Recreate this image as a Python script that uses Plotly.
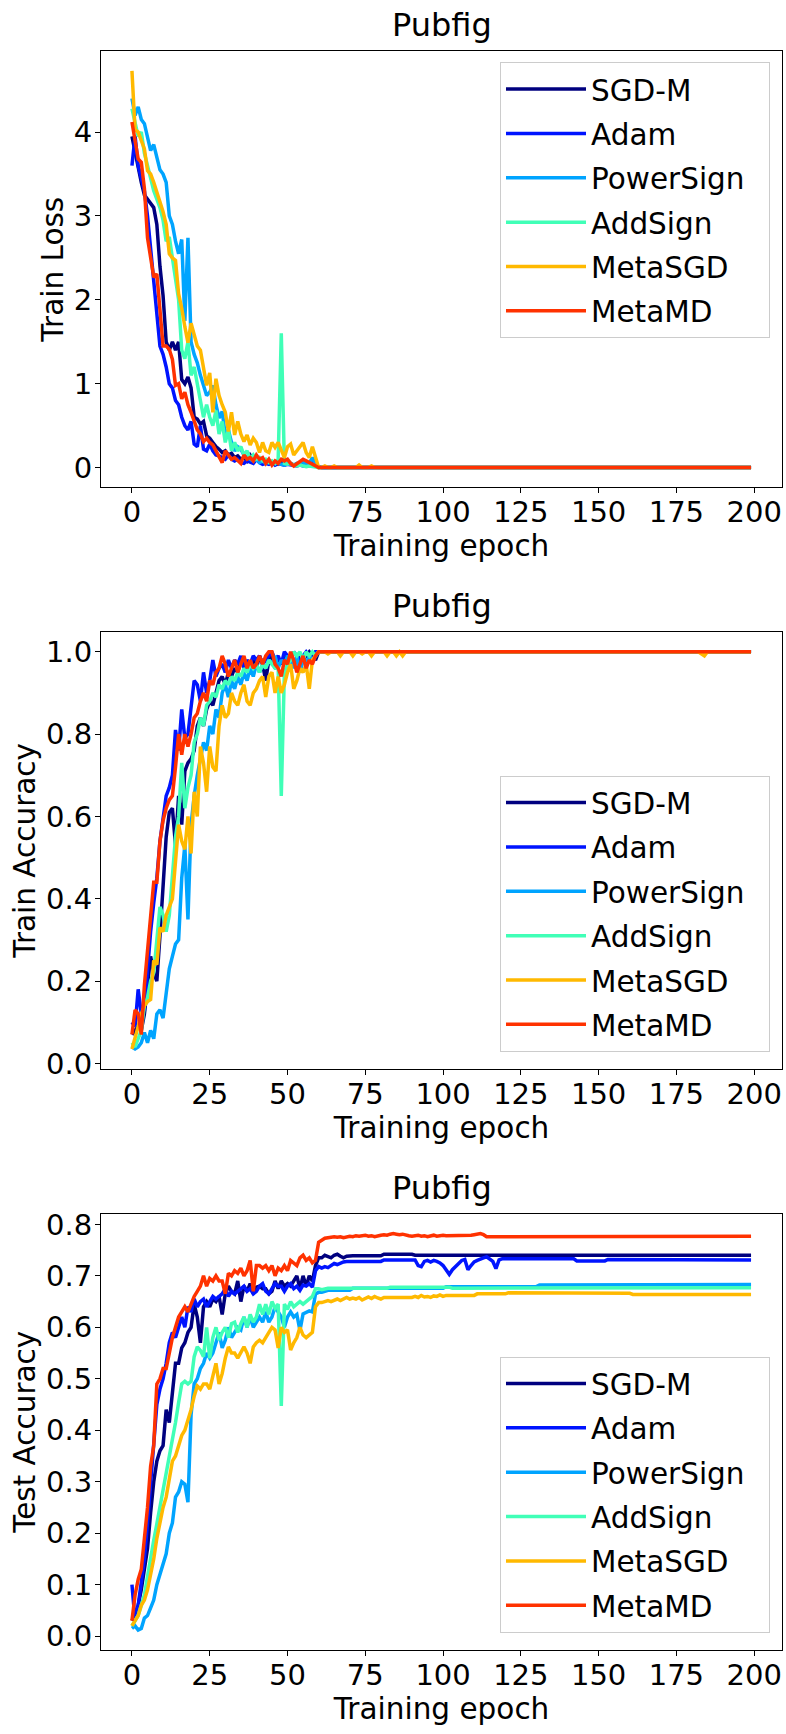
import plotly.graph_objects as go

# ---------------- data ----------------
names = ["SGD-M", "Adam", "PowerSign", "AddSign", "MetaSGD", "MetaMD"]
colors = ["#00007f", "#0014ff", "#00a4ff", "#40ffb7", "#ffb900", "#ff3200"]
x_ticks = [0, 25, 50, 75, 100, 125, 150, 175, 200]
dataset = "Pubfig"
x_label = "Training epoch"

# ---- Train loss (epochs 0-60, then plateau) ----
loss_sgdm = [3.95, 3.75, 3.6, 3.4, 3.25, 3.2, 3.15, 3.1, 2.9, 2.4,
             2.05, 1.5, 1.4, 1.5, 1.4, 1.5, 1.05, 1.0, 1.08, 0.95,
             0.6, 0.58, 0.52, 0.55, 0.38, 0.35, 0.3, 0.25, 0.22, 0.18,
             0.2, 0.15, 0.17, 0.12, 0.14, 0.1, 0.12, 0.08, 0.15, 0.1,
             0.12, 0.08, 0.1, 0.06, 0.08, 0.05, 0.07, 0.04, 0.06, 0.05,
             0.04, 0.05, 0.03, 0.04, 0.03, 0.05, 0.03, 0.04, 0.03, 0.02,
             0.0] + [0.0] * 139
loss_adam = [3.6, 3.95, 3.6, 3.45, 3.3, 3.0, 2.6, 2.2, 1.8, 1.45,
             1.35, 1.2, 1.0, 0.95, 0.8, 0.75, 0.6, 0.5, 0.45, 0.55,
             0.28, 0.25, 0.5, 0.22, 0.2, 0.28, 0.2, 0.15, 0.14, 0.12,
             0.1, 0.15, 0.1, 0.08, 0.1, 0.06, 0.05, 0.08, 0.06, 0.05,
             0.1, 0.06, 0.04, 0.05, 0.04, 0.06, 0.03, 0.05, 0.04, 0.03,
             0.04, 0.03, 0.03, 0.02, 0.03, 0.02, 0.04, 0.03, 0.08, 0.02,
             0.0] + [0.0] * 139
loss_powersign = [4.4, 4.2, 4.3, 4.15, 4.1, 3.95, 3.78, 3.85, 3.7, 3.55,
                  3.5, 3.4, 3.0, 2.9, 2.7, 2.55, 2.72, 1.75, 2.74, 1.5,
                  1.35, 1.25, 1.1, 0.98, 0.86, 0.9, 0.98, 0.75, 0.59, 0.67,
                  0.39, 0.45, 0.3, 0.2, 0.25, 0.22, 0.15, 0.12, 0.1, 0.08,
                  0.1, 0.06, 0.08, 0.05, 0.07, 0.04, 0.06, 0.05, 0.04, 0.03,
                  0.05, 0.04, 0.03, 0.05, 0.04, 0.08, 0.03, 0.05, 0.12, 0.04,
                  0.0] + [0.0] * 139
loss_addsign = [4.28, 4.1, 3.95, 4.0, 3.75, 3.6, 3.45, 3.3, 3.2, 3.1,
                2.95, 2.7, 2.75, 2.5, 2.2, 2.0, 1.4, 1.3, 1.5, 1.1,
                1.2, 1.0, 0.8, 0.6, 0.75, 0.6, 0.5, 0.68, 0.4, 0.55,
                0.3, 0.45, 0.2, 0.3, 0.2, 0.25, 0.15, 0.2, 0.1, 0.15,
                0.1, 0.12, 0.08, 0.1, 0.06, 0.08, 0.05, 0.1, 1.6, 0.05,
                0.04, 0.05, 0.03, 0.02, 0.03, 0.02, 0.01, 0.02, 0.01, 0.01,
                0.0] + [0.0] * 139
loss_metasgd = [4.73, 4.03, 4.0, 3.9, 3.8, 3.54, 3.5, 3.4, 3.29, 3.17,
                3.05, 2.9, 2.55, 2.5, 2.47, 2.07, 1.9, 1.68, 1.49, 1.72,
                1.6, 1.45, 1.4, 1.2, 0.98, 1.13, 0.66, 1.06, 0.86, 0.75,
                0.66, 0.43, 0.66, 0.39, 0.55, 0.4, 0.31, 0.39, 0.27, 0.35,
                0.3, 0.18, 0.3, 0.2, 0.18, 0.3, 0.24, 0.3, 0.2, 0.12,
                0.25, 0.28, 0.15, 0.2, 0.26, 0.3, 0.18, 0.12, 0.25, 0.12,
                0.0] + [0.0, 0.02, 0.0, 0.0, 0.02, 0.0, 0.0, 0.0, 0.0, 0.0,
                        0.0, 0.0, 0.03, 0.0, 0.0, 0.0, 0.02, 0.0, 0.0, 0.0] + [0.0] * 119
loss_metamd = [4.12, 3.88, 3.68, 3.64, 3.33, 2.74, 2.47, 2.27, 2.31, 1.9,
               1.45, 1.45, 1.41, 1.29, 0.98, 1.0, 0.82, 0.9, 0.75, 0.66,
               0.55, 0.45, 0.4, 0.31, 0.35, 0.3, 0.27, 0.2, 0.15, 0.06,
               0.2, 0.15, 0.1, 0.12, 0.08, 0.05, 0.15, 0.1, 0.12, 0.08,
               0.15, 0.1, 0.12, 0.05, 0.1, 0.03, 0.08, 0.05, 0.1, 0.08,
               0.1, 0.05, 0.02, 0.05, 0.08, 0.1, 0.08, 0.06, 0.05, 0.03,
               0.0] + [0.0] * 139

# ---- Train accuracy ----
acc_sgdm = [0.07, 0.08, 0.09, 0.08, 0.12, 0.19, 0.26, 0.22, 0.2, 0.31,
            0.43, 0.55, 0.61, 0.62, 0.53, 0.65, 0.58, 0.71, 0.73, 0.74,
            0.76, 0.82, 0.84, 0.82, 0.86, 0.88, 0.87, 0.9, 0.93, 0.94,
            0.92, 0.95, 0.94, 0.96, 0.95, 0.98, 0.97, 0.95, 0.97, 0.98,
            0.96, 0.99, 0.97, 0.93, 0.98, 0.99, 0.96, 0.98, 0.97, 0.99,
            0.98, 0.99, 0.97, 0.98, 0.99, 0.98, 0.99, 1.0, 0.99, 0.98,
            1.0] + [1.0] * 139
acc_adam = [0.1, 0.09, 0.18, 0.12, 0.13, 0.23, 0.32, 0.39, 0.45, 0.54,
            0.6, 0.65, 0.67, 0.7, 0.81, 0.76, 0.86, 0.79, 0.8, 0.87,
            0.93, 0.92, 0.88, 0.95, 0.9, 0.93, 0.98, 0.94, 0.96, 0.97,
            0.95, 0.98, 0.96, 0.98, 0.97, 0.99, 0.96, 0.98, 0.97, 0.99,
            0.98, 0.99, 0.97, 0.98, 0.99, 1.0, 0.98, 0.99, 0.97, 1.0,
            0.99, 0.98, 1.0, 0.99, 0.98, 0.99, 1.0, 0.99, 0.98, 1.0,
            1.0] + [1.0] * 139
acc_powersign = [0.04, 0.035, 0.04, 0.05, 0.075, 0.05, 0.08, 0.06, 0.12, 0.13,
                 0.11, 0.17, 0.23, 0.26, 0.29, 0.3, 0.45, 0.53, 0.35, 0.58,
                 0.65, 0.7, 0.74, 0.78, 0.76, 0.82, 0.8, 0.86, 0.84, 0.9,
                 0.92, 0.89, 0.93, 0.91, 0.94, 0.92, 0.95, 0.93, 0.96, 0.94,
                 0.97, 0.95, 0.97, 0.96, 0.98, 0.97, 0.99, 0.96, 0.98, 0.97,
                 0.99, 0.98, 0.96, 0.99, 0.95, 0.98, 0.97, 0.99, 0.98, 0.99,
                 1.0] + [1.0] * 139
acc_addsign = [0.05, 0.04, 0.06, 0.08, 0.14, 0.16, 0.2, 0.22, 0.3, 0.38,
               0.36, 0.32, 0.36, 0.45, 0.55, 0.6, 0.73, 0.62, 0.67, 0.7,
               0.78, 0.8, 0.84, 0.82, 0.87, 0.88, 0.9, 0.89, 0.92, 0.91,
               0.93, 0.92, 0.94, 0.93, 0.95, 0.94, 0.96, 0.95, 0.97, 0.96,
               0.97, 0.95, 0.97, 0.96, 0.98, 0.97, 0.96, 0.96, 0.65, 0.95,
               0.97, 0.98, 1.0, 0.99, 1.0, 0.98, 1.0, 0.99, 1.0, 0.99,
               1.0] + [1.0] * 139
acc_metasgd = [0.035, 0.06, 0.09, 0.12, 0.14, 0.15, 0.155, 0.25, 0.24, 0.33,
               0.32, 0.36, 0.38, 0.4, 0.49, 0.58, 0.54, 0.52, 0.6, 0.51,
               0.66, 0.6, 0.77, 0.73, 0.66, 0.77, 0.72, 0.71, 0.82, 0.87,
               0.84, 0.85, 0.9, 0.88, 0.87, 0.9, 0.92, 0.88, 0.87, 0.9,
               0.91, 0.93, 0.94, 0.89, 0.94, 0.95, 0.9, 0.94, 0.9, 0.92,
               0.95, 0.97, 0.91, 0.93, 0.96, 0.95, 0.97, 0.91, 0.98, 0.99,
               1.0] + [1.0, 1.0, 0.995, 1.0, 1.0, 1.0, 0.99, 1.0, 1.0, 1.0,
                       0.99, 1.0, 1.0, 0.995, 1.0, 1.0, 0.99, 1.0, 1.0, 1.0,
                       1.0, 0.99, 1.0, 1.0, 0.99, 1.0, 0.99, 1.0, 1.0, 1.0] + [1.0] * 92 + [0.995, 0.99, 1.0] + [1.0] * 14
acc_metamd = [0.07, 0.13, 0.12, 0.07, 0.19, 0.27, 0.37, 0.44, 0.44, 0.54,
              0.59, 0.62, 0.64, 0.65, 0.72, 0.8, 0.75, 0.8, 0.77, 0.8,
              0.84, 0.85, 0.88, 0.9, 0.88, 0.93, 0.92, 0.95, 0.96, 0.99,
              0.97, 0.94, 0.96, 0.98, 0.95, 0.97, 0.99, 0.96, 0.98, 0.96,
              0.97, 0.99, 0.97, 0.99, 1.0, 1.0, 0.97, 0.96, 0.94, 0.98,
              0.97, 1.0, 0.98, 0.95, 0.97, 0.99, 0.96, 0.98, 0.97, 0.99,
              1.0] + [1.0] * 139

# ---- Test accuracy ----
test_sgdm = [0.03, 0.04, 0.06, 0.09, 0.13, 0.17, 0.24, 0.3, 0.34, 0.36,
             0.37, 0.44, 0.415, 0.48, 0.53, 0.53, 0.56, 0.57, 0.59, 0.6,
             0.645, 0.62, 0.57, 0.64, 0.65, 0.64, 0.655, 0.65, 0.66, 0.625,
             0.665, 0.68, 0.67, 0.665, 0.69, 0.65, 0.68, 0.67, 0.685, 0.665,
             0.678, 0.68, 0.675, 0.675, 0.665, 0.67, 0.69, 0.675, 0.69, 0.68,
             0.685, 0.68, 0.69, 0.70, 0.675, 0.70, 0.68, 0.70, 0.69, 0.72,
             0.735] + [0.735, 0.74, 0.738, 0.735, 0.74, 0.742, 0.738, 0.735, 0.738] + [0.739] * 11 \
    + [0.742] * 10 + [0.74] * 10 + [0.741] * 40 + [0.74] * 59
test_adam = [0.1, 0.03, 0.06, 0.1, 0.15, 0.22, 0.3, 0.38, 0.45, 0.48,
             0.5, 0.53, 0.57, 0.59, 0.58, 0.6, 0.62, 0.6, 0.64, 0.63,
             0.655, 0.64, 0.65, 0.655, 0.64, 0.65, 0.66, 0.655, 0.66, 0.665,
             0.675, 0.66, 0.67, 0.665, 0.67, 0.675, 0.68, 0.67, 0.675, 0.665,
             0.67, 0.68, 0.685, 0.67, 0.665, 0.675, 0.685, 0.68, 0.68, 0.67,
             0.68, 0.685, 0.675, 0.68, 0.672, 0.682, 0.68, 0.685, 0.678, 0.71,
             0.718] + [0.715, 0.718, 0.716, 0.72, 0.724, 0.722, 0.725, 0.727] + [0.728] * 12 + [0.731] * 11 \
    + [0.72, 0.718, 0.728, 0.73, 0.727, 0.73, 0.728, 0.725, 0.72, 0.71,
       0.703, 0.712, 0.718, 0.725, 0.73, 0.732, 0.712, 0.72, 0.727, 0.73,
       0.733, 0.735, 0.737, 0.733, 0.728, 0.714, 0.731] + [0.733] * 24 + [0.729] * 10 + [0.732] * 30 + [0.731] * 17
test_powersign = [0.015, 0.02, 0.012, 0.015, 0.035, 0.04, 0.055, 0.07, 0.1, 0.12,
                  0.14, 0.16, 0.2, 0.22, 0.27, 0.28, 0.3, 0.295, 0.26, 0.43,
                  0.49, 0.5, 0.52, 0.53, 0.55, 0.54, 0.55, 0.57, 0.59, 0.56,
                  0.575, 0.6, 0.58, 0.59, 0.6, 0.595, 0.62, 0.6, 0.62, 0.6,
                  0.61, 0.62, 0.61, 0.63, 0.61, 0.62, 0.64, 0.63, 0.62, 0.6,
                  0.62, 0.63, 0.62, 0.625, 0.594, 0.626, 0.63, 0.632, 0.63, 0.665,
                  0.668] + [0.668, 0.67] + [0.672] * 8 + [0.676] * 30 + [0.679] * 30 + [0.682] * 30 + [0.683] * 39
test_addsign = [0.02, 0.03, 0.04, 0.06, 0.08, 0.116, 0.154, 0.186, 0.218, 0.25,
                0.28, 0.31, 0.345, 0.377, 0.415, 0.454, 0.49, 0.495, 0.49, 0.495,
                0.543, 0.562, 0.555, 0.543, 0.6, 0.54, 0.58, 0.6, 0.575, 0.59,
                0.6, 0.58, 0.607, 0.61, 0.59, 0.607, 0.62, 0.6, 0.625, 0.61,
                0.62, 0.645, 0.625, 0.645, 0.625, 0.65, 0.637, 0.645, 0.447, 0.645,
                0.635, 0.65, 0.64, 0.645, 0.65, 0.645, 0.65, 0.655, 0.66, 0.675,
                0.675] + [0.673, 0.675] + [0.676] * 20 + [0.678] * 20 + [0.676] * 20 + [0.677] * 77
test_metasgd = [0.02, 0.03, 0.04, 0.06, 0.07, 0.09, 0.12, 0.15, 0.19, 0.22,
                0.25, 0.27, 0.31, 0.34, 0.35, 0.37, 0.39, 0.40, 0.42, 0.44,
                0.466, 0.486, 0.48, 0.49, 0.49, 0.48, 0.505, 0.53, 0.49, 0.51,
                0.54, 0.562, 0.55, 0.55, 0.54, 0.55, 0.562, 0.55, 0.53, 0.562,
                0.57, 0.575, 0.57, 0.58, 0.59, 0.60, 0.595, 0.56, 0.60, 0.59,
                0.595, 0.556, 0.57, 0.58, 0.60, 0.585, 0.58, 0.584, 0.59, 0.64,
                0.648] + [0.648, 0.65, 0.652, 0.65, 0.653, 0.655, 0.652, 0.656, 0.658, 0.655,
                          0.657, 0.655, 0.658, 0.653, 0.656, 0.659, 0.656, 0.66, 0.657, 0.655] \
    + [0.658] * 10 + [0.66, 0.658, 0.662, 0.659, 0.66, 0.658, 0.661, 0.66, 0.663, 0.66] \
    + [0.662] * 10 + [0.665] * 10 + [0.667] * 30 + [0.666] * 10 + [0.664] * 39
test_metamd = [0.03, 0.08, 0.11, 0.13, 0.19, 0.25, 0.33, 0.37, 0.49, 0.5,
               0.52, 0.52, 0.55, 0.58, 0.6, 0.62, 0.63, 0.64, 0.63, 0.645,
               0.66, 0.67, 0.68, 0.70, 0.68, 0.695, 0.69, 0.70, 0.69, 0.69,
               0.665, 0.705, 0.70, 0.71, 0.705, 0.715, 0.70, 0.71, 0.73, 0.67,
               0.72, 0.72, 0.715, 0.72, 0.71, 0.72, 0.70, 0.715, 0.71, 0.72,
               0.71, 0.73, 0.725, 0.72, 0.735, 0.74, 0.73, 0.735, 0.725, 0.73,
               0.765] + [0.77, 0.773, 0.774, 0.775, 0.776, 0.775, 0.776, 0.774, 0.776, 0.777,
                         0.776, 0.778, 0.777, 0.778, 0.779, 0.777, 0.778, 0.776, 0.778, 0.779,
                         0.78, 0.779, 0.781, 0.782, 0.781, 0.78, 0.781, 0.779, 0.778, 0.777,
                         0.778, 0.779, 0.777, 0.778, 0.776, 0.778, 0.779, 0.777, 0.778, 0.779] \
    + [0.778] * 8 + [0.779, 0.78, 0.781, 0.782, 0.78] + [0.776] * 37 + [0.777] * 49

loss_series = [loss_sgdm, loss_adam, loss_powersign, loss_addsign, loss_metasgd, loss_metamd]
acc_series = [acc_sgdm, acc_adam, acc_powersign, acc_addsign, acc_metasgd, acc_metamd]
test_series = [test_sgdm, test_adam, test_powersign, test_addsign, test_metasgd, test_metamd]

# ---------------- layout ----------------
W, H = 786, 1734
AX_L, AX_R = 101, 782
panels = [
    dict(ylabel="Train Loss", series=loss_series, top=45.5, bottom=486.5, dtick=1, fmt="d", leg_top=57),
    dict(ylabel="Train Accuracy", series=acc_series, top=632.5, bottom=1074, dtick=0.2, fmt=".1f", leg_top=778),
    dict(ylabel="Test Accuracy", series=test_series, top=1220.5, bottom=1661, dtick=0.1, fmt=".1f", leg_top=1365),
]

FONT = "DejaVu Sans"
fig = go.Figure()
layout = dict(width=W, height=H, margin=dict(l=0, r=0, t=0, b=0),
              paper_bgcolor="white", plot_bgcolor="white",
              font=dict(family=FONT, color="black"), annotations=[])


def py(p):
    return 1 - p / H


for i, p in enumerate(panels, start=1):
    sfx = "" if i == 1 else str(i)
    leg = "legend" if i == 1 else f"legend{i}"
    all_y = [v for s in p["series"] for v in s]
    n_max = max(len(s) for s in p["series"]) - 1
    ymin, ymax = min(all_y), max(all_y)
    ypad = 0.05 * (ymax - ymin)
    xpad = 0.05 * n_max
    for name, color, ys in zip(names, colors, p["series"]):
        fig.add_trace(go.Scatter(
            x=list(range(len(ys))), y=ys, mode="lines",
            name=name + "\u00a0\u00a0",  # right padding inside the legend box
            line=dict(color=color, width=3.5),
            xaxis=f"x{sfx}", yaxis=f"y{sfx}",
            legend=leg, legendgroup=f"p{i}_{name}", showlegend=True))
    common = dict(showgrid=False, zeroline=False, showline=True, mirror=True,
                  linecolor="black", linewidth=1, ticks="outside", ticklen=5,
                  tickwidth=1, tickcolor="black",
                  tickfont=dict(family=FONT, size=29, color="black"))
    layout[f"xaxis{sfx}"] = dict(common, domain=[AX_L / W, AX_R / W], anchor=f"y{sfx}",
                                 range=[-xpad, n_max + xpad], tickmode="array",
                                 tickvals=x_ticks, ticktext=[str(t) for t in x_ticks],
                                 ticklabelstandoff=-6,
                                 title=dict(text=x_label, standoff=0,
                                            font=dict(family=FONT, size=29.5, color="black")))
    layout[f"yaxis{sfx}"] = dict(common, domain=[py(p["bottom"]), py(p["top"])], anchor=f"x{sfx}",
                                 range=[ymin - ypad, ymax + ypad], tick0=0, dtick=p["dtick"],
                                 tickformat=p["fmt"], ticklabelstandoff=-3,
                                 title=dict(text=p["ylabel"], standoff=1,
                                            font=dict(family=FONT, size=29.5, color="black")))
    layout[leg] = dict(x=500 / W, y=py(p["leg_top"]), xanchor="left", yanchor="top",
                       bgcolor="rgba(255,255,255,0.8)", bordercolor="#cccccc", borderwidth=1,
                       font=dict(family=FONT, size=29.5, color="black"),
                       traceorder="grouped", tracegroupgap=3, itemwidth=80)
    layout["annotations"].append(dict(
        text=dataset, x=(AX_L + AX_R) / 2 / W, y=py(p["top"] - 5), xref="paper", yref="paper",
        xanchor="center", yanchor="bottom", showarrow=False,
        font=dict(family=FONT, size=32, color="black")))

fig.update_layout(**layout)
fig.write_html("out.html")
